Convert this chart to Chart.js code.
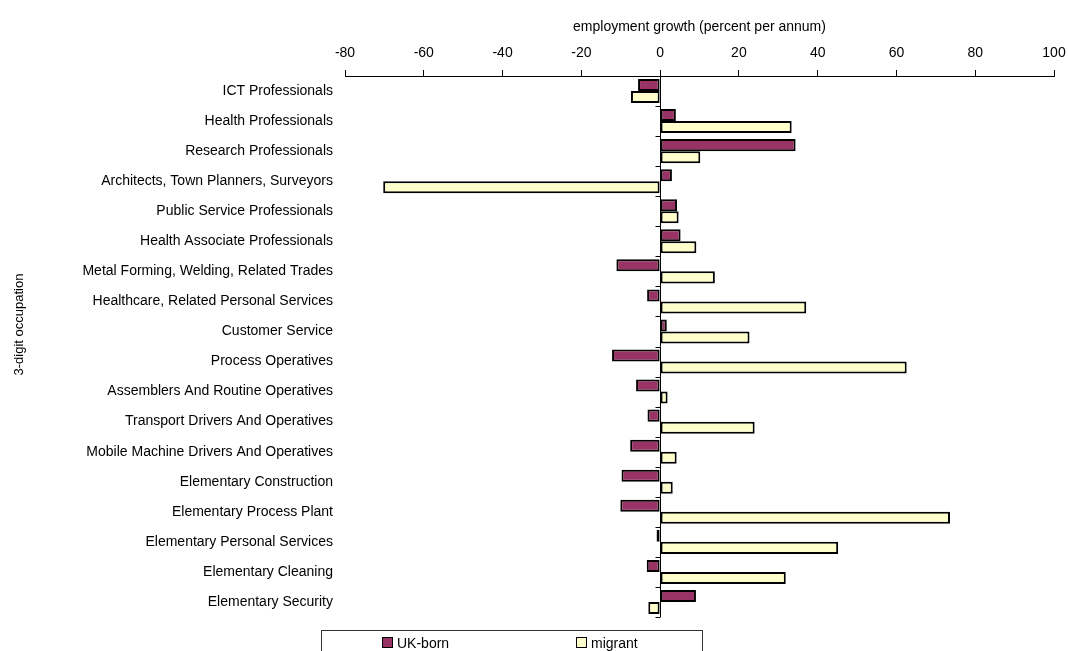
<!DOCTYPE html>
<html>
<head>
<meta charset="utf-8">
<title>Employment growth by occupation</title>
<script src="https://cdn.jsdelivr.net/npm/chart.js@4.4.1/dist/chart.umd.min.js"></script>
<style>
  html, body { margin: 0; padding: 0; background: #fff; }
  #wrap { position: relative; width: 1068px; height: 651px; overflow: hidden; }
  #legend {
    position: absolute; left: 321px; top: 630px; width: 382px; height: 30px;
    border: 1px solid #333; box-sizing: border-box;
    font: 14px "Liberation Sans", Arial, sans-serif; color: #000;
  }
  #legend span { position: absolute; top: 4px; line-height: 16px; }
  #legend i {
    display: inline-block; width: 9px; height: 9px; border: 1px solid #000;
    margin-right: 4px; vertical-align: 0px;
  }
</style>
</head>
<body>
<div id="wrap">
  <canvas id="chart"></canvas>
  <div id="legend"></div>
</div>
<script>
const occupations = [
  'ICT Professionals',
  'Health Professionals',
  'Research Professionals',
  'Architects, Town Planners, Surveyors',
  'Public Service Professionals',
  'Health Associate Professionals',
  'Metal Forming, Welding, Related Trades',
  'Healthcare, Related Personal Services',
  'Customer Service',
  'Process Operatives',
  'Assemblers And Routine Operatives',
  'Transport Drivers And Operatives',
  'Mobile Machine Drivers And Operatives',
  'Elementary Construction',
  'Elementary Process Plant',
  'Elementary Personal Services',
  'Elementary Cleaning',
  'Elementary Security'
];

// percent per annum
const ukBorn = [-5.6, 4.0, 34.4, 3.0, 4.3, 5.2, -11.1, -3.3, 1.7, -12.2,
                -6.1, -3.2, -7.6, -9.8, -10.1, -0.9, -3.4, 9.1];
const migrant = [-7.4, 33.4, 10.2, -70.3, 4.7, 9.2, 13.9, 37.1, 22.7, 62.6,
                 1.9, 24.0, 4.2, 3.2, 73.6, 45.2, 31.9, -3.0];

const xTicks = [-80, -60, -40, -20, 0, 20, 40, 60, 80, 100];

const FONT = '"Liberation Sans", Arial, sans-serif';
Chart.defaults.font.family = FONT;
Chart.defaults.font.size = 14;
Chart.defaults.color = '#000';

// small ticks on the zero line between categories, plus rotated axis title
const zeroAxis = {
  id: 'zeroAxis',
  afterDatasetsDraw(chart) {
    const { ctx, scales: { x, y } } = chart;
    const x0 = Math.round(x.getPixelForValue(0)) + 0.5;
    const n = occupations.length;
    ctx.save();
    ctx.strokeStyle = '#000';
    ctx.lineWidth = 1;
    ctx.beginPath();
    ctx.moveTo(x0, y.top);
    ctx.lineTo(x0, y.bottom);
    for (let i = 0; i <= n; i++) {
      const py = Math.round(y.getPixelForValue(i - 0.5)) + 0.5;
      ctx.moveTo(x0 - 5, py);
      ctx.lineTo(x0, py);
    }
    ctx.stroke();
    ctx.restore();
  },
  afterDraw(chart) {
    const { ctx, chartArea } = chart;
    ctx.save();
    ctx.translate(19, (chartArea.top + chartArea.bottom) / 2 - 22);
    ctx.rotate(-Math.PI / 2);
    ctx.font = '13px ' + FONT;
    ctx.fillStyle = '#000';
    ctx.textAlign = 'center';
    ctx.textBaseline = 'middle';
    ctx.fillText('3-digit occupation', 0, 0);
    ctx.restore();
  }
};

const chart = new Chart(document.getElementById('chart'), {
  type: 'bar',
  data: {
    labels: occupations,
    datasets: [
      {
        label: 'UK-born',
        data: ukBorn,
        backgroundColor: '#993366',
        borderColor: '#000',
        borderWidth: 2,
        borderSkipped: false
      },
      {
        label: 'migrant',
        data: migrant,
        backgroundColor: '#FFFFCC',
        borderColor: '#000',
        borderWidth: 2,
        borderSkipped: false
      }
    ]
  },
  options: {
    indexAxis: 'y',
    responsive: true,
    maintainAspectRatio: false,
    animation: false,
    categoryPercentage: 0.8,
    barPercentage: 1.0,
    layout: { padding: { left: 0, right: 0, top: 0, bottom: 34 } },
    plugins: {
      legend: { display: false },
      tooltip: { enabled: false }
    },
    scales: {
      x: {
        position: 'top',
        min: -80,
        max: 100,
        afterBuildTicks: s => { s.ticks = xTicks.map(v => ({ value: v })); },
        afterFit: s => { s.height = 76; s.paddingRight = 14; },
        ticks: { padding: 8, font: { size: 14 }, maxRotation: 0 },
        grid: {
          drawOnChartArea: false,
          tickLength: 6,
          tickColor: '#000'
        },
        border: { color: '#000', width: 1 },
        title: {
          display: true,
          text: 'employment growth (percent per annum)',
          font: { size: 14 },
          padding: { top: 19, bottom: 0 }
        }
      },
      y: {
        afterFit: s => { s.width = 345; },
        ticks: { padding: 12, font: { size: 14 } },
        grid: { display: false, drawTicks: false },
        border: { display: false }
      }
    }
  },
  plugins: [zeroAxis]
});

// boxed legend under the plot
const legendEl = document.getElementById('legend');
const legendLeft = [60, 254];
chart.data.datasets.forEach((ds, i) => {
  const item = document.createElement('span');
  item.style.left = legendLeft[i] + 'px';
  item.innerHTML = `<i style="background:${ds.backgroundColor}"></i>${ds.label}`;
  legendEl.appendChild(item);
});
</script>
</body>
</html>
